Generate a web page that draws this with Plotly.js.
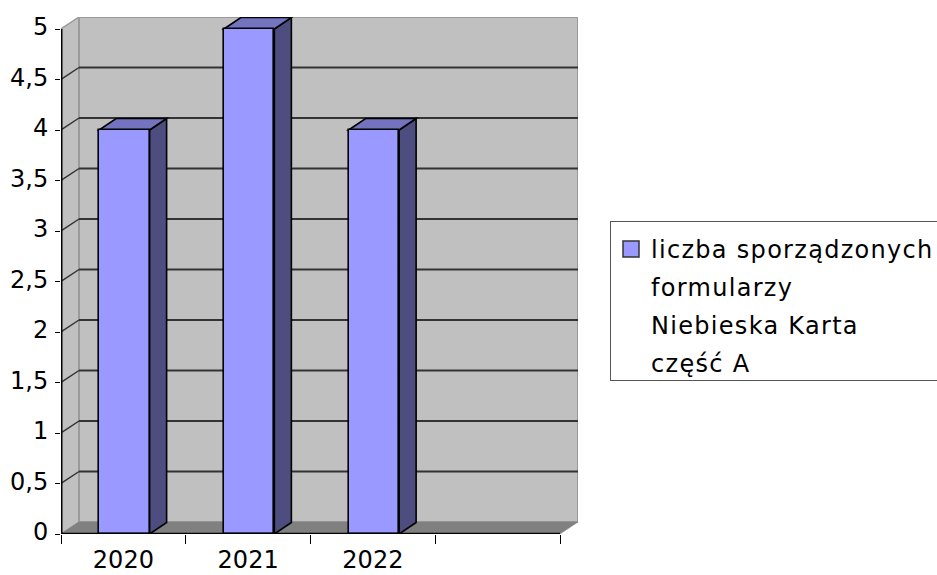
<!DOCTYPE html>
<html>
<head>
<meta charset="utf-8">
<script src="https://cdn.plot.ly/plotly-3.0.1.min.js"></script>
<style>
html,body{margin:0;padding:0;background:#fff;overflow:hidden}
.legendtext{letter-spacing:1.3px}
.legend .scrollbox{translate:0 5px}
.ytick text{translate:2px -2px}
</style>
</head>
<body>
<div id="chart" style="width:937px;height:575px"></div>
<script>
const categories = ['2020', '2021', '2022', ' '];
const values = [4, 5, 4, null];
const seriesName = 'liczba sporządzonych formularzy Niebieska Karta część A';
const legendLines = ['liczba sporządzonych', 'formularzy', 'Niebieska Karta', 'część A'];
const gridValues = [0.5, 1, 1.5, 2, 2.5, 3, 3.5, 4, 4.5];

const W = 937, H = 575;
const L = 61, R = 578, T = 17, B = 534;
const catPx = 124.75, valPx = 101;
const depthX = 18 / catPx, depthY = 12 / valPx;
const barDepthX = 17 / catPx, barDepthY = 11.5 / valPx;
const barW = 50.5 / catPx;
const barShift = 0.008;
const xMin = -0.5, xMax = xMin + (R - L) / catPx;
const yMin = 0, yMax = (B - T) / valPx;
const xLast = categories.length - 0.5;
const yTop = 5;

function poly(pts, fill, color, width, layer) {
  return {
    type: 'path', xref: 'x', yref: 'y', layer: layer || 'below',
    path: 'M' + pts.map(p => p[0] + ',' + p[1]).join('L') + 'Z',
    fillcolor: fill, line: {color: color, width: width}
  };
}
function seg(x0, y0, x1, y1, color, width, layer) {
  return {type: 'line', xref: 'x', yref: 'y', layer: layer || 'below',
    x0, y0, x1, y1, line: {color, width}};
}

const shapes = [];
// left wall, back wall
shapes.push(poly([[xMin, 0], [xMin + depthX, depthY], [xMin + depthX, yTop + depthY], [xMin, yTop]], '#c0c0c0', '#9a9a9a', 1.5));
shapes.push(poly([[xMin + depthX, depthY], [xLast + depthX, depthY], [xLast + depthX, yTop + depthY], [xMin + depthX, yTop + depthY]], '#c0c0c0', '#9a9a9a', 2));
// gridlines
gridValues.forEach(v => {
  shapes.push(seg(xMin, v, xMin + depthX, v + depthY, '#333333', 1.5));
  shapes.push(seg(xMin + depthX, v + depthY, xLast + depthX, v + depthY, '#333333', 2));
});
// floor
shapes.push(poly([[xMin, 0], [xMin + depthX, depthY], [xLast + depthX, depthY], [xLast, 0]], '#808080', '#808080', 0.5));
// bar tops and sides
values.forEach((v, i) => {
  if (v === null) return;
  const xl = i + barShift - barW / 2, xr = i + barShift + barW / 2;
  shapes.push(poly([[xr, 0], [xr + barDepthX, barDepthY], [xr + barDepthX, v + barDepthY], [xr, v]], '#4d4d80', '#000000', 1.6));
  shapes.push(poly([[xl, v], [xl + barDepthX, v + barDepthY], [xr + barDepthX, v + barDepthY], [xr, v]], '#7373bf', '#000000', 1.6));
});
// front axis lines
shapes.push(seg(xMin, 0, xLast, 0, '#000000', 2.5, 'above'));
shapes.push(seg(xMin, 0, xMin, yTop, '#000000', 3, 'above'));

const traces = [{
  type: 'bar',
  x: categories,
  y: values,
  name: seriesName,
  width: barW,
  offset: barShift - barW / 2,
  marker: {color: '#9999ff', line: {color: '#000000', width: 1.6}},
  showlegend: false,
  hoverinfo: 'x+y'
}];
legendLines.forEach((line, i) => {
  traces.push({
    type: 'scatter', mode: 'markers',
    x: [null], y: [null],
    name: line,
    legendgroup: 'line' + i,
    showlegend: true,
    marker: {
      symbol: 'square', size: 16,
      color: i === 0 ? '#9999ff' : 'rgba(0,0,0,0)',
      line: {color: i === 0 ? '#333333' : 'rgba(0,0,0,0)', width: 1.5}
    }
  });
});

const font = {family: '"DejaVu Sans", sans-serif', size: 24, color: '#000000'};
const layout = {
  width: W, height: H,
  margin: {l: L, r: W - R, t: T, b: H - B, pad: 0},
  paper_bgcolor: '#ffffff',
  plot_bgcolor: 'rgba(0,0,0,0)',
  separators: ', ',
  font: font,
  bargap: 0,
  xaxis: {
    type: 'category',
    categoryorder: 'array',
    categoryarray: categories,
    range: [xMin, xMax],
    tickson: 'boundaries',
    ticks: 'outside', ticklen: 9, tickwidth: 1, tickcolor: '#000000',
    ticklabelstandoff: 9,
    showgrid: false, zeroline: false, showline: false,
    tickfont: font, fixedrange: true
  },
  yaxis: {
    range: [yMin, yMax],
    tickmode: 'array',
    tickvals: [0, 0.5, 1, 1.5, 2, 2.5, 3, 3.5, 4, 4.5, 5],
    ticktext: ['0', '0,5', '1', '1,5', '2', '2,5', '3', '3,5', '4', '4,5', '5'],
    ticks: 'outside', ticklen: 5, tickwidth: 1, tickcolor: '#000000',
    ticklabelstandoff: 4,
    showgrid: false, zeroline: false, showline: false,
    tickfont: font, fixedrange: true
  },
  shapes: shapes,
  showlegend: true,
  legend: {
    xref: 'container', yref: 'container',
    x: 610 / W, xanchor: 'left',
    y: 1 - 221 / H, yanchor: 'top',
    font: font,
    traceorder: 'grouped',
    tracegroupgap: 3.5,
    entrywidth: 300,
    entrywidthmode: 'pixels',
    bgcolor: '#ffffff',
    bordercolor: '#555555',
    borderwidth: 1,
    itemclick: false, itemdoubleclick: false
  }
};
Plotly.newPlot('chart', traces, layout, {displayModeBar: false, responsive: false});
</script>
</body>
</html>
